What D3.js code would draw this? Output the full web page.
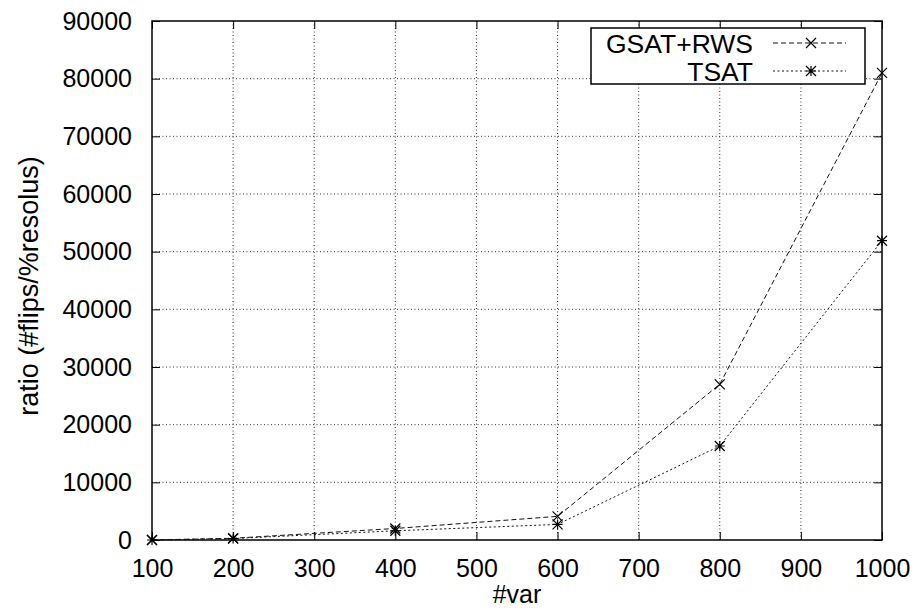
<!DOCTYPE html>
<html>
<head>
<meta charset="utf-8">
<script src="https://cdn.jsdelivr.net/npm/d3@7"></script>
<style>
  html, body { margin: 0; padding: 0; background: #fff; }
  svg { display: block; font-family: "Liberation Sans", Arial, sans-serif; }
</style>
</head>
<body>
<svg id="chart" width="915" height="608"></svg>
<script>
// Number of variables and flip ratio for each solver
const vars = [100, 200, 400, 600, 800, 1000];
const gsatRws = [0, 300, 2000, 4100, 27000, 81000];
const tsat = [0, 250, 1600, 2700, 16300, 51900];
const xTicks = [100, 200, 300, 400, 500, 600, 700, 800, 900, 1000];
const yTicks = [0, 10000, 20000, 30000, 40000, 50000, 60000, 70000, 80000, 90000];

const series = [
  { name: "GSAT+RWS", values: gsatRws, dash: "5,3", marker: "cross" },
  { name: "TSAT", values: tsat, dash: "2,2.5", marker: "star" }
];

const svg = d3.select("#chart");
const plotL = 152, plotR = 882, plotT = 21, plotB = 540;
const fontSize = 25;

const x = d3.scaleLinear().domain([100, 1000]).range([plotL, plotR]);
const y = d3.scaleLinear().domain([0, 90000]).range([plotB, plotT]);

// grid
const grid = svg.append("g").attr("stroke", "#333").attr("stroke-width", 1)
  .attr("stroke-dasharray", "1,2.5");
xTicks.slice(1, -1).forEach(t => {
  grid.append("line").attr("x1", x(t)).attr("x2", x(t)).attr("y1", plotT).attr("y2", plotB);
});
yTicks.slice(1, -1).forEach(t => {
  grid.append("line").attr("x1", plotL).attr("x2", plotR).attr("y1", y(t)).attr("y2", y(t));
});

// axes: ticks pointing into the plot, mirrored on top and right
const fmt = d3.format("d");
const axB = svg.append("g").attr("transform", `translate(0,${plotB})`)
  .call(d3.axisBottom(x).tickValues(xTicks).tickFormat(fmt).tickSizeInner(-8).tickSizeOuter(0).tickPadding(0));
const axL = svg.append("g").attr("transform", `translate(${plotL},0)`)
  .call(d3.axisLeft(y).tickValues(yTicks).tickFormat(fmt).tickSizeInner(-8).tickSizeOuter(0).tickPadding(20));
const axT = svg.append("g").attr("transform", `translate(0,${plotT})`)
  .call(d3.axisTop(x).tickValues(xTicks).tickFormat("").tickSizeInner(-8).tickSizeOuter(0));
const axR = svg.append("g").attr("transform", `translate(${plotR},0)`)
  .call(d3.axisRight(y).tickValues(yTicks).tickFormat("").tickSizeInner(-8).tickSizeOuter(0));

[axB, axL, axT, axR].forEach(a => {
  a.select(".domain").remove();
  a.selectAll("line").attr("stroke", "#000").attr("stroke-width", 1);
  a.selectAll("text").attr("fill", "#000").attr("font-size", fontSize)
    .attr("font-family", '"Liberation Sans", Arial, sans-serif');
});
// x tick labels sit on a baseline below the frame
axB.selectAll("text").attr("y", 37).attr("dy", null);

// frame
svg.append("rect").attr("x", plotL).attr("y", plotT)
  .attr("width", plotR - plotL).attr("height", plotB - plotT)
  .attr("fill", "none").attr("stroke", "#000").attr("stroke-width", 1.5);

// axis titles
svg.append("text").attr("x", (plotL + plotR) / 2).attr("y", 603)
  .attr("text-anchor", "middle").attr("font-size", fontSize).text("#var");
svg.append("text")
  .attr("transform", "translate(38,286) rotate(-90)")
  .attr("text-anchor", "middle").attr("font-size", 27).text("ratio (#flips/%resolus)");

function drawMarker(g, cx, cy, type) {
  const r = 5;
  const p = d3.path();
  p.moveTo(cx - r, cy - r); p.lineTo(cx + r, cy + r);
  p.moveTo(cx - r, cy + r); p.lineTo(cx + r, cy - r);
  if (type === "star") {
    p.moveTo(cx - r, cy); p.lineTo(cx + r, cy);
    p.moveTo(cx, cy - r); p.lineTo(cx, cy + r);
  }
  g.append("path").attr("d", p.toString()).attr("stroke", "#000")
    .attr("stroke-width", 1.2).attr("fill", "none");
}

const line = d3.line().x(d => x(d[0])).y(d => y(d[1]));
series.forEach(s => {
  const pts = vars.map((v, i) => [v, s.values[i]]);
  svg.append("path").datum(pts).attr("d", line)
    .attr("fill", "none").attr("stroke", "#111").attr("stroke-width", 1)
    .attr("stroke-dasharray", s.dash);
  const mg = svg.append("g");
  pts.forEach(p => drawMarker(mg, x(p[0]), y(p[1]), s.marker));
});

// legend
const lg = svg.append("g");
lg.append("rect").attr("x", 591).attr("y", 28).attr("width", 274).attr("height", 56)
  .attr("fill", "#fff").attr("stroke", "#000").attr("stroke-width", 1.5);
series.forEach((s, i) => {
  const cy = 43 + i * 28;
  lg.append("text").attr("x", 753).attr("y", cy).attr("dy", "0.36em")
    .attr("text-anchor", "end").attr("font-size", 26.5).text(s.name);
  lg.append("line").attr("x1", 773).attr("x2", 846).attr("y1", cy).attr("y2", cy)
    .attr("stroke", "#111").attr("stroke-width", 1).attr("stroke-dasharray", s.dash);
  drawMarker(lg, 811, cy, s.marker);
});
</script>
</body>
</html>
